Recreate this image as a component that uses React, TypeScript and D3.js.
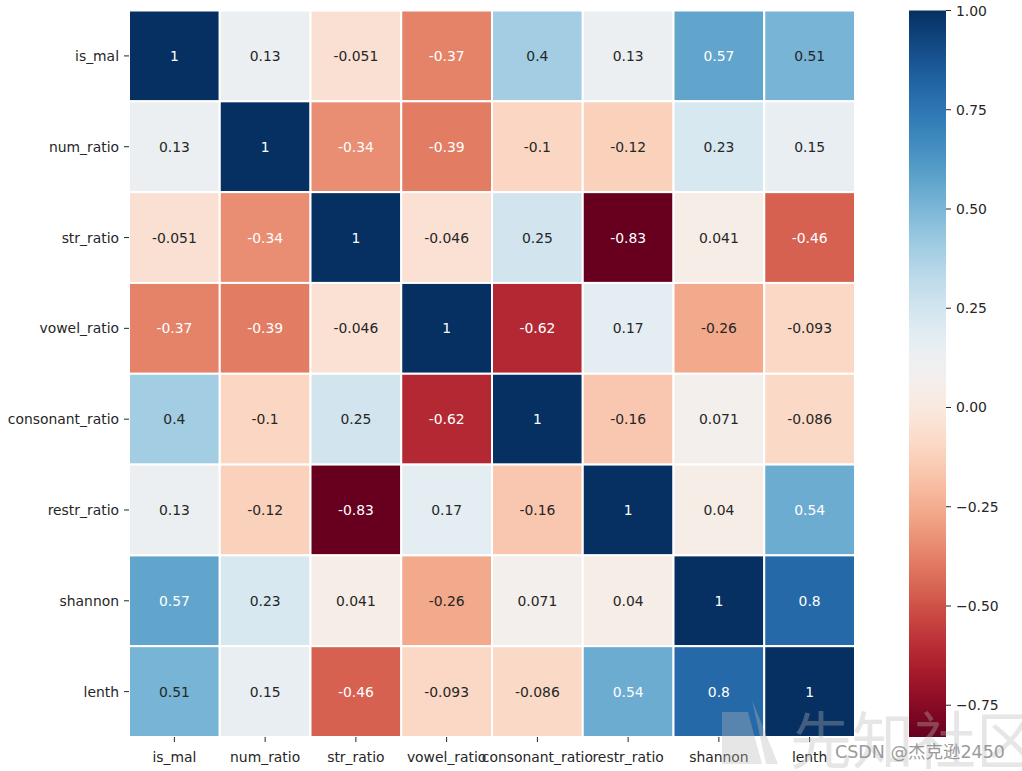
import React from "react";
import * as d3 from "d3";

const labels = ["is_mal", "num_ratio", "str_ratio", "vowel_ratio", "consonant_ratio", "restr_ratio", "shannon", "lenth"];
const rowIsMal = [1, 0.13, -0.051, -0.37, 0.4, 0.13, 0.57, 0.51];
const rowNum = [0.13, 1, -0.34, -0.39, -0.1, -0.12, 0.23, 0.15];
const rowStr = [-0.051, -0.34, 1, -0.046, 0.25, -0.83, 0.041, -0.46];
const rowVowel = [-0.37, -0.39, -0.046, 1, -0.62, 0.17, -0.26, -0.093];
const rowCons = [0.4, -0.1, 0.25, -0.62, 1, -0.16, 0.071, -0.086];
const rowRestr = [0.13, -0.12, -0.83, 0.17, -0.16, 1, 0.04, 0.54];
const rowShannon = [0.57, 0.23, 0.041, -0.26, 0.071, 0.04, 1, 0.8];
const rowLenth = [0.51, 0.15, -0.46, -0.093, -0.086, 0.54, 0.8, 1];
const matrix = [rowIsMal, rowNum, rowStr, rowVowel, rowCons, rowRestr, rowShannon, rowLenth];
const cbTicks = [1.0, 0.75, 0.5, 0.25, 0.0, -0.25, -0.5, -0.75];

const vmin = -0.83;
const vmax = 1.0;

const W = 1022, H = 771;
const left = 129, right = 855, top = 10.5, bottom = 737;
const cbX = 909, cbW = 37;
const font = "DejaVu Sans, sans-serif";
const fs = 13.9;

function lum(c: string) {
  const rgb = d3.rgb(c);
  const f = (v: number) => {
    v /= 255;
    return v <= 0.03928 ? v / 12.92 : Math.pow((v + 0.055) / 1.055, 2.4);
  };
  return 0.2126 * f(rgb.r) + 0.7152 * f(rgb.g) + 0.0722 * f(rgb.b);
}

export default function App() {
  const x = d3.scaleBand<string>().domain(labels).range([left, right]);
  const y = d3.scaleBand<string>().domain(labels).range([top, bottom]);
  const color = (v: number) => d3.interpolateRdBu((v - vmin) / (vmax - vmin));
  const cbY = d3.scaleLinear().domain([vmin, vmax]).range([bottom, top]);
  const stops = d3.range(0, 101).map((i) => i / 100);

  return (
    <svg width={W} height={H} style={{ position: "absolute", left: 0, top: 0, background: "#fff" }}>
      <defs>
        <linearGradient id="cb" x1="0" y1="1" x2="0" y2="0">
          {stops.map((t) => (
            <stop key={t} offset={t} stopColor={d3.interpolateRdBu(t)} />
          ))}
        </linearGradient>
      </defs>
      <rect width={W} height={H} fill="#fff" />
      {matrix.map((row, i) =>
        row.map((v, j) => {
          const c = color(v);
          const cx = x(labels[j])!;
          const cy = y(labels[i])!;
          const tc = lum(c) < 0.408 ? "#ffffff" : "#262626";
          return (
            <g key={`${i}-${j}`}>
              <rect x={cx} y={cy} width={x.bandwidth()} height={y.bandwidth()} fill={c} stroke="#fff" strokeWidth={2} />
              <text
                x={cx + x.bandwidth() / 2}
                y={cy + y.bandwidth() / 2}
                textAnchor="middle"
                dominantBaseline="central"
                fontFamily={font}
                fontSize={fs}
                fill={tc}
              >
                {String(v)}
              </text>
            </g>
          );
        })
      )}
      {labels.map((l) => {
        const cy = y(l)! + y.bandwidth() / 2;
        const cx = x(l)! + x.bandwidth() / 2;
        return (
          <g key={l}>
            <line x1={left - 5} x2={left} y1={cy} y2={cy} stroke="#262626" strokeWidth={1} />
            <text x={left - 10} y={cy} textAnchor="end" dominantBaseline="central" fontFamily={font} fontSize={fs} fill="#262626">
              {l}
            </text>
            <line x1={cx} x2={cx} y1={bottom} y2={bottom + 5} stroke="#262626" strokeWidth={1} />
            <text x={cx} y={bottom + 20} textAnchor="middle" dominantBaseline="central" fontFamily={font} fontSize={fs} fill="#262626">
              {l}
            </text>
          </g>
        );
      })}
      <rect x={cbX} y={top} width={cbW} height={bottom - top} fill="url(#cb)" />
      {cbTicks.map((t) => (
        <g key={t}>
          <line x1={cbX + cbW} x2={cbX + cbW + 5} y1={cbY(t)} y2={cbY(t)} stroke="#262626" strokeWidth={1} />
          <text x={cbX + cbW + 10} y={cbY(t)} dominantBaseline="central" fontFamily={font} fontSize={fs} fill="#262626">
            {d3.format(".2f")(t).replace("-", "\u2212")}
          </text>
        </g>
      ))}
      <text x={790} y={764} fontFamily="Noto Sans CJK SC, sans-serif" fontSize={62} fill="#b8b8b8" opacity={0.35}>
        先知社区
      </text>
      <path d="M722 712 L748 712 L762 764 L722 764 Z M752 700 L778 764 L766 764 Z" fill="#b8b8b8" opacity={0.35} />
      <text x={835} y={758} fontFamily="DejaVu Sans, Noto Sans CJK SC, sans-serif" fontSize={17.5} fill="#8a8a8a" opacity={0.85}>
        CSDN @杰克逊2450
      </text>
    </svg>
  );
}
